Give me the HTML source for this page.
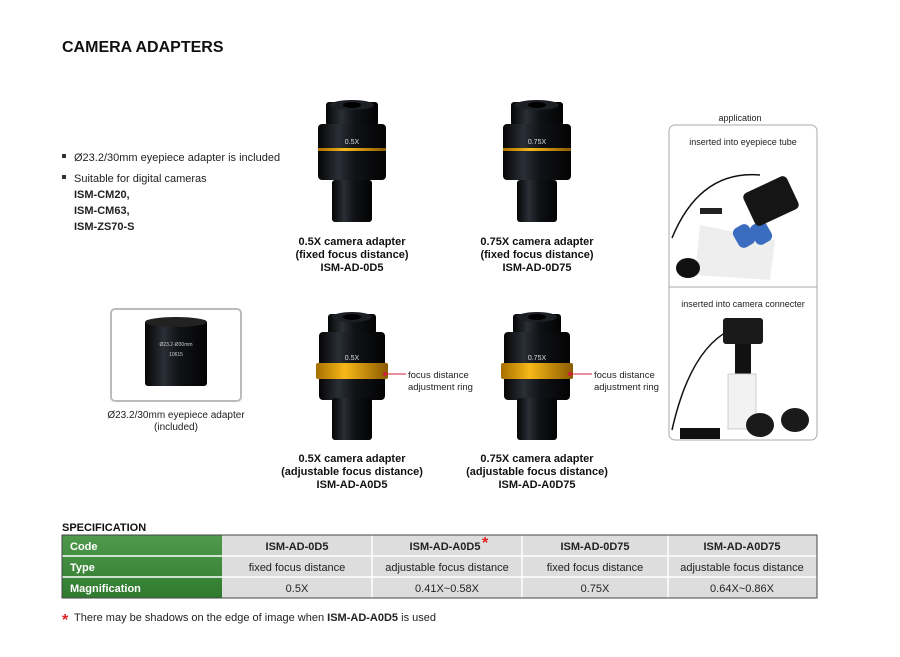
<!DOCTYPE html>
<html><head><meta charset="utf-8"><style>
body{margin:0;background:#fff;}
svg{display:block;font-family:"Liberation Sans",Arial,sans-serif;}
</style></head><body>
<svg width="900" height="657" viewBox="0 0 900 657" xmlns="http://www.w3.org/2000/svg">
<defs>
<linearGradient id="blk" x1="0" x2="1" y1="0" y2="0">
<stop offset="0" stop-color="#050505"/><stop offset="0.3" stop-color="#2a2f36"/><stop offset="0.55" stop-color="#101216"/><stop offset="1" stop-color="#030303"/>
</linearGradient>
<linearGradient id="gold" x1="0" x2="1"><stop offset="0" stop-color="#a66f00"/><stop offset="0.4" stop-color="#f7b818"/><stop offset="1" stop-color="#8a5a00"/></linearGradient>
<linearGradient id="grn" x1="0" x2="0" y1="0" y2="1"><stop offset="0" stop-color="#4f9a4c"/><stop offset="1" stop-color="#2f7a2e"/></linearGradient>
<g id="fixed">
<rect x="-26" y="0" width="52" height="24" rx="3" fill="url(#blk)"/>
<ellipse cx="0" cy="3" rx="22" ry="5" fill="#1c1f24"/>
<ellipse cx="0" cy="3" rx="9" ry="3" fill="#000"/>
<rect x="-34" y="22" width="68" height="56" rx="4" fill="url(#blk)"/>
<rect x="-34" y="46" width="68" height="3" fill="url(#gold)"/>
<rect x="-20" y="78" width="40" height="42" rx="3" fill="url(#blk)"/>
</g>
<g id="adj">
<rect x="-24" y="0" width="48" height="20" rx="3" fill="url(#blk)"/>
<ellipse cx="0" cy="3" rx="20" ry="5" fill="#1c1f24"/>
<ellipse cx="0" cy="3" rx="9" ry="3" fill="#000"/>
<rect x="-33" y="18" width="66" height="68" rx="4" fill="url(#blk)"/>
<rect x="-36" y="49" width="72" height="16" rx="2" fill="url(#gold)"/>
<rect x="-20" y="84" width="40" height="42" rx="3" fill="url(#blk)"/>
</g>
</defs>

<text x="62" y="52" font-size="16" font-weight="bold" fill="#111">CAMERA ADAPTERS</text>

<g font-size="11" fill="#222">
<rect x="62" y="154" width="4" height="4" fill="#333"/>
<text x="74" y="161">Ø23.2/30mm eyepiece adapter is included</text>
<rect x="62" y="175" width="4" height="4" fill="#333"/>
<text x="74" y="182">Suitable for digital cameras</text>
<text x="74" y="198" font-weight="bold">ISM-CM20,</text>
<text x="74" y="214" font-weight="bold">ISM-CM63,</text>
<text x="74" y="230" font-weight="bold">ISM-ZS70-S</text>
</g>

<use href="#fixed" x="352" y="102"/>
<text x="352" y="144" font-size="7" fill="#ddd" text-anchor="middle">0.5X</text>
<use href="#fixed" x="537" y="102"/>
<text x="537" y="144" font-size="7" fill="#ddd" text-anchor="middle">0.75X</text>

<g font-size="11" font-weight="bold" fill="#111" text-anchor="middle">
<text x="352" y="245">0.5X camera adapter</text>
<text x="352" y="258">(fixed focus distance)</text>
<text x="352" y="271">ISM-AD-0D5</text>
<text x="537" y="245">0.75X camera adapter</text>
<text x="537" y="258">(fixed focus distance)</text>
<text x="537" y="271">ISM-AD-0D75</text>
<text x="352" y="462">0.5X camera adapter</text>
<text x="352" y="475">(adjustable focus distance)</text>
<text x="352" y="488">ISM-AD-A0D5</text>
<text x="537" y="462">0.75X camera adapter</text>
<text x="537" y="475">(adjustable focus distance)</text>
<text x="537" y="488">ISM-AD-A0D75</text>
</g>

<use href="#adj" x="352" y="314"/>
<text x="352" y="360" font-size="7" fill="#ddd" text-anchor="middle">0.5X</text>
<use href="#adj" x="537" y="314"/>
<text x="537" y="360" font-size="7" fill="#ddd" text-anchor="middle">0.75X</text>

<g stroke="#d0203a" stroke-width="1"><line x1="385" y1="374" x2="406" y2="374"/><line x1="570" y1="374" x2="592" y2="374"/></g>
<circle cx="385" cy="374" r="2" fill="#d0203a"/><circle cx="570" cy="374" r="2" fill="#d0203a"/>
<g font-size="9.5" fill="#222">
<text x="408" y="378">focus distance</text><text x="408" y="390">adjustment ring</text>
<text x="594" y="378">focus distance</text><text x="594" y="390">adjustment ring</text>
</g>

<rect x="111" y="309" width="130" height="92" rx="4" fill="#fff" stroke="#bbb" stroke-width="2"/>
<rect x="145" y="320" width="62" height="66" rx="3" fill="url(#blk)"/>
<ellipse cx="176" cy="322" rx="31" ry="5" fill="#222"/>
<text x="176" y="346" font-size="5" fill="#ccc" text-anchor="middle">Ø23.2-Ø30mm</text>
<text x="176" y="356" font-size="5" fill="#ccc" text-anchor="middle">10615</text>
<g font-size="10" fill="#222" text-anchor="middle"><text x="176" y="418">Ø23.2/30mm eyepiece adapter</text><text x="176" y="430">(included)</text></g>

<text x="740" y="121" font-size="9" fill="#222" text-anchor="middle">application</text>
<rect x="669" y="125" width="148" height="315" rx="6" fill="#fff" stroke="#aaa"/>
<line x1="669" y1="287" x2="817" y2="287" stroke="#aaa"/>
<text x="743" y="145" font-size="9" fill="#222" text-anchor="middle">inserted into eyepiece tube</text>
<text x="743" y="307" font-size="9" fill="#222" text-anchor="middle">inserted into camera connecter</text>
<path d="M672 238 Q700 170 760 175" stroke="#111" stroke-width="1.5" fill="none"/>
<path d="M695 275 L700 225 L775 240 L770 280 Z" fill="#eee"/>
<rect x="700" y="208" width="22" height="6" fill="#222"/>
<rect x="735" y="225" width="18" height="22" rx="6" fill="#3a6cc0" transform="rotate(-30 744 236)"/>
<rect x="752" y="222" width="18" height="22" rx="6" fill="#3a6cc0" transform="rotate(-30 761 233)"/>
<rect x="747" y="183" width="48" height="36" rx="5" fill="#151515" transform="rotate(-25 771 201)"/>
<ellipse cx="688" cy="268" rx="12" ry="10" fill="#111"/>
<path d="M672 430 Q690 350 730 330" stroke="#111" stroke-width="1.5" fill="none"/>
<rect x="723" y="318" width="40" height="26" rx="3" fill="#1a1a1a"/>
<rect x="735" y="344" width="16" height="30" fill="#111"/>
<rect x="728" y="374" width="28" height="55" fill="#f2f2f2" stroke="#ccc"/>
<ellipse cx="760" cy="425" rx="14" ry="12" fill="#1a1a1a"/>
<ellipse cx="795" cy="420" rx="14" ry="12" fill="#1a1a1a"/>
<rect x="680" y="428" width="40" height="11" fill="#111"/>

<text x="62" y="531" font-size="11" font-weight="bold" fill="#111">SPECIFICATION</text>
<rect x="62" y="535" width="755" height="63" fill="#ddd" stroke="#444"/>
<rect x="62" y="535" width="160" height="63" fill="url(#grn)"/>
<g stroke="#fff" stroke-width="1.5"><line x1="62" y1="556" x2="222" y2="556"/><line x1="62" y1="577" x2="222" y2="577"/></g>
<g stroke="#fff" stroke-width="1.5"><line x1="222" y1="556" x2="817" y2="556"/><line x1="222" y1="577" x2="817" y2="577"/>
<line x1="372" y1="535" x2="372" y2="598"/><line x1="522" y1="535" x2="522" y2="598"/><line x1="668" y1="535" x2="668" y2="598"/></g>
<rect x="62" y="535" width="755" height="63" fill="none" stroke="#444"/>
<g font-size="11" font-weight="bold" fill="#fff"><text x="70" y="550">Code</text><text x="70" y="571">Type</text><text x="70" y="592">Magnification</text></g>
<g font-size="11" fill="#222" text-anchor="middle">
<g font-weight="bold"><text x="297" y="550">ISM-AD-0D5</text><text x="445" y="550">ISM-AD-A0D5</text><text x="595" y="550">ISM-AD-0D75</text><text x="742" y="550">ISM-AD-A0D75</text></g>
<text x="297" y="571">fixed focus distance</text><text x="447" y="571">adjustable focus distance</text><text x="595" y="571">fixed focus distance</text><text x="742" y="571">adjustable focus distance</text>
<text x="297" y="592">0.5X</text><text x="447" y="592">0.41X~0.58X</text><text x="595" y="592">0.75X</text><text x="742" y="592">0.64X~0.86X</text>
</g>
<text x="482" y="548" font-size="16" font-weight="bold" fill="#e02020">*</text>
<text x="62" y="625" font-size="16" font-weight="bold" fill="#e02020">*</text>
<text x="74" y="621" font-size="11" fill="#222">There may be shadows on the edge of image when <tspan font-weight="bold">ISM-AD-A0D5</tspan> is used</text>
</svg>
</body></html>
